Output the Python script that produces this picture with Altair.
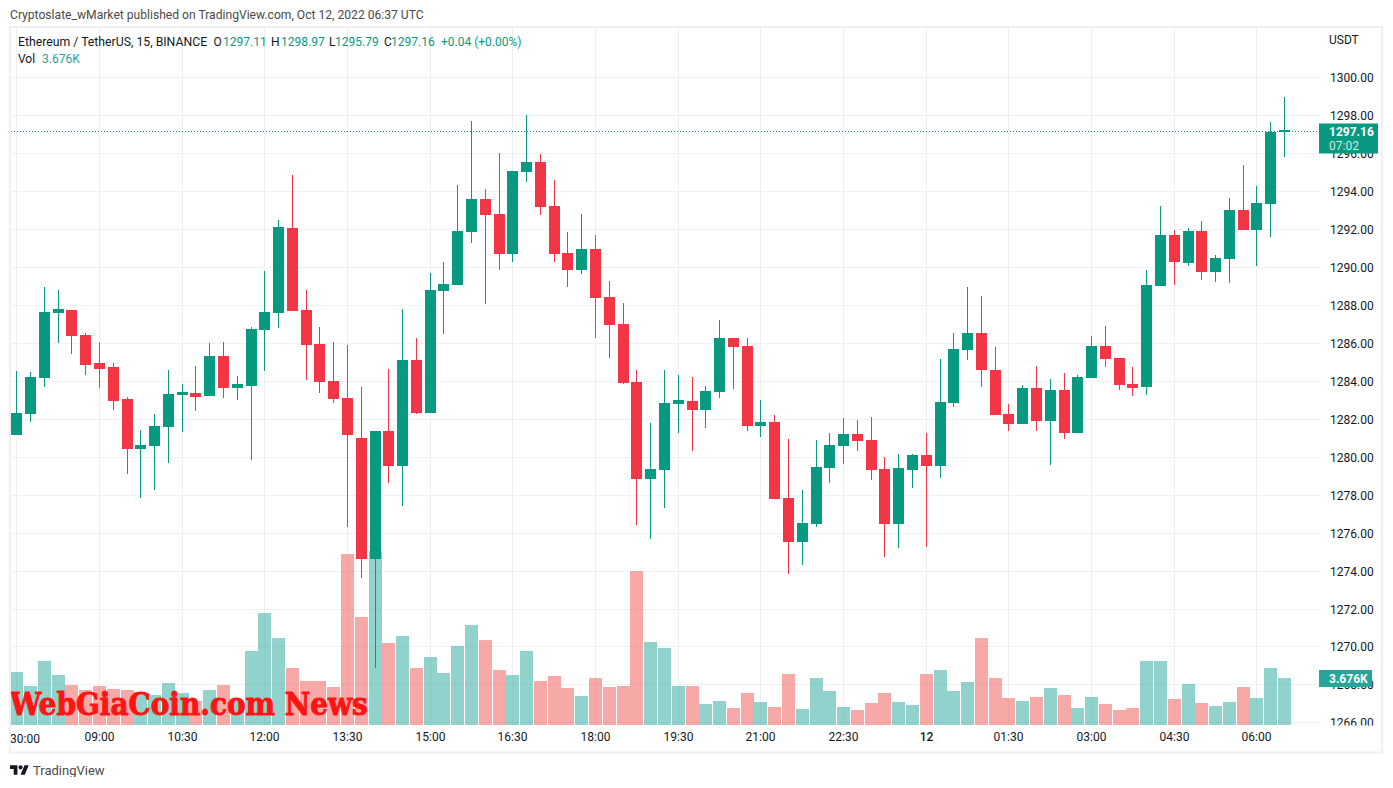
import altair as alt
import pandas as pd

opens = [1281.15,1282.26,1284.15,1287.58,1287.74,1286.42,1284.95,1284.73,1283.05,1280.41,
         1280.57,1281.57,1283.26,1283.36,1283.21,1285.31,1283.63,1283.73,1286.69,1287.58,
         1292.06,1287.74,1285.95,1284.00,1283.10,1280.99,1274.61,1281.36,1279.52,1285.10,
         1282.31,1288.74,1289.06,1291.85,1293.59,1292.80,1290.69,1295.01,1295.54,1293.22,
         1290.74,1289.85,1290.96,1288.42,1287.00,1283.94,1278.83,1279.31,1282.78,1282.94,
         1282.47,1283.42,1286.26,1285.84,1281.62,1281.83,1277.83,1275.51,1276.46,1279.41,
         1280.57,1281.20,1280.89,1279.36,1276.46,1279.30,1280.09,1279.51,1282.84,1285.63,
         1286.53,1284.58,1282.26,1281.73,1283.62,1281.88,1283.52,1281.25,1284.15,1285.83,
         1285.20,1283.83,1283.67,1289.00,1291.69,1290.21,1291.90,1289.74,1290.42,1293.00,
         1291.95,1293.32,1297.11]
closes = [1282.31,1284.21,1287.63,1287.74,1286.37,1284.84,1284.63,1282.94,1280.41,1280.62,
          1281.62,1283.31,1283.36,1283.21,1285.31,1283.63,1283.79,1286.74,1287.63,1292.12,
          1287.69,1285.89,1283.94,1283.05,1281.15,1274.61,1281.36,1279.52,1285.10,1282.31,
          1288.79,1289.11,1291.90,1293.59,1292.75,1290.69,1295.07,1295.54,1293.17,1290.69,
          1289.85,1290.96,1288.37,1286.95,1283.89,1278.83,1279.36,1282.84,1282.94,1282.47,
          1283.47,1286.26,1285.79,1281.62,1281.83,1277.78,1275.51,1276.51,1279.46,1280.62,
          1281.20,1280.83,1279.30,1276.46,1279.41,1280.09,1279.51,1282.89,1285.68,1286.53,
          1284.58,1282.20,1281.73,1283.63,1281.88,1283.52,1281.25,1284.20,1285.83,1285.15,
          1283.78,1283.67,1289.05,1291.69,1290.26,1291.90,1289.74,1290.47,1293.00,1291.95,
          1293.37,1297.12,1297.16]
highs = [1284.52,1284.47,1288.95,1288.79,1287.74,1286.53,1286.05,1284.95,1283.15,1281.41,
         1282.26,1284.58,1283.84,1284.79,1286.00,1286.05,1284.26,1286.84,1289.80,1292.48,
         1294.86,1288.79,1286.84,1286.05,1285.89,1283.68,1281.36,1284.63,1287.79,1286.26,
         1289.69,1290.27,1294.33,1297.70,1294.12,1296.02,1295.07,1298.02,1295.96,1294.59,
         1291.85,1292.80,1291.69,1289.27,1288.11,1284.58,1281.78,1284.58,1284.31,1284.21,
         1283.73,1287.21,1286.26,1286.26,1282.99,1282.20,1280.94,1278.25,1280.89,1281.25,
         1282.05,1281.94,1282.10,1279.99,1280.15,1280.15,1281.25,1285.16,1286.53,1288.95,
         1288.48,1285.79,1282.78,1283.78,1284.78,1284.10,1284.41,1284.31,1286.36,1286.89,
         1285.20,1284.73,1289.84,1293.21,1291.95,1292.06,1292.42,1290.63,1293.64,1295.38,
         1294.27,1297.64,1298.97]
lows = [1281.15,1281.84,1283.68,1286.00,1285.42,1284.31,1283.63,1282.47,1279.09,1277.83,
        1278.25,1279.67,1281.31,1282.42,1283.21,1283.10,1283.00,1279.83,1284.52,1286.79,
        1287.69,1284.05,1283.36,1282.84,1276.30,1273.61,1268.87,1278.62,1277.41,1282.26,
        1282.31,1286.47,1289.06,1291.27,1288.06,1289.85,1290.27,1294.49,1292.75,1290.27,
        1288.95,1289.64,1286.26,1285.21,1283.84,1276.41,1275.67,1277.30,1281.26,1280.31,
        1281.52,1283.10,1283.57,1281.36,1281.04,1277.78,1273.82,1274.30,1276.30,1278.62,
        1279.62,1280.31,1278.78,1274.72,1275.19,1278.36,1275.24,1278.88,1282.63,1285.10,
        1283.68,1282.20,1281.36,1281.73,1281.35,1279.57,1280.93,1281.25,1284.15,1284.73,
        1283.52,1283.20,1283.25,1289.00,1289.05,1290.05,1289.31,1289.21,1289.16,1291.95,
        1290.05,1291.58,1295.79]
volumes = [4.15,3.05,5.01,3.91,3.13,2.74,3.05,2.82,2.74,2.58,2.35,3.28,2.50,1.88,2.74,3.13,1.96,
           5.79,8.76,6.80,4.46,3.44,3.44,2.97,13.37,8.45,13.61,6.41,6.96,4.46,5.32,4.07,6.18,
           7.82,6.65,4.30,3.91,5.79,3.44,3.83,2.89,2.27,3.68,2.97,3.05,12.04,6.49,6.02,3.05,
           3.05,1.64,1.88,1.33,2.50,1.80,1.41,3.99,1.25,3.68,2.66,1.41,1.17,1.72,2.50,1.80,
           1.56,3.99,4.30,2.66,3.36,6.80,3.68,2.11,1.88,2.19,2.89,2.35,1.33,2.19,1.64,1.17,
           1.33,5.01,5.01,2.03,3.21,1.72,1.49,1.80,2.97,2.11,4.46,3.676]
time_tick_labels = ["", "09:00", "10:30", "12:00", "13:30", "15:00", "16:30", "18:00", "19:30",
                    "21:00", "22:30", "12", "01:30", "03:00", "04:30", "06:00"]
price_ticks = list(range(1266, 1302, 2))

FONT = "Roboto"
GREEN, RED = "#089981", "#F23645"
TEXT = "#131722"
GRID = "#f0f1f5"
GRID_V = "#eceef2"

n = len(opens)
df = pd.DataFrame({"i": range(1, n + 1), "open": opens, "close": closes, "high": highs,
                   "low": lows, "vol": volumes})
df["dir"] = ["up" if c >= o else "down" for o, c in zip(opens, closes)]
one = pd.DataFrame({"a": [0]})
time_ticks = [1 + 6 * k for k in range(len(time_tick_labels))]

W, H = 1309, 697
x_scale = alt.Scale(domain=[0.5428, 95.536], range=[0, W], round=True, padding=0)
y_scale = alt.Scale(domain=[1265.86, 1302.602], range=[H, 0], round=True, padding=0)
v_scale = alt.Scale(domain=[0, 54.5], range=[H, 0], round=True, padding=0)

label_js = "[" + ",".join(f"'{s}'" for s in time_tick_labels) + "][(datum.value-1)/6]"
x_axis = alt.Axis(values=time_ticks, labelExpr=label_js, title=None, grid=True, gridColor=GRID_V,
                  gridWidth=1, domain=False, ticks=False, labelPadding=7, labelFont=FONT,
                  labelFontSize=12, labelColor=TEXT, labelOverlap=False, labelFlush=False,
                  labelBound=False, translate=0,
                  labelFontWeight={"expr": "datum.value == 67 ? 500 : 'normal'"})
y_axis = alt.Axis(values=price_ticks, format=".2f", title=None, orient="right", grid=True,
                  gridColor=GRID, gridWidth=1, domain=False, ticks=False, labelPadding=10,
                  labelFont=FONT, labelFontSize=12, labelColor=TEXT, labelOverlap=False,
                  labelFlush=False, labelBound=False, translate=0.5, labelAlign="left")

X = alt.X("i:Q", scale=x_scale, axis=x_axis)
col_candle = alt.Color("dir:N", scale=alt.Scale(domain=["up", "down"], range=[GREEN, RED]), legend=None)
col_vol = alt.Color("dir:N", scale=alt.Scale(domain=["up", "down"], range=["#26a69a", "#ef5350"]), legend=None)

vol = alt.Chart(df).mark_bar(size=13, opacity=0.5).encode(
    x=X, y=alt.Y("vol:Q", scale=v_scale, axis=None), color=col_vol)
wick = alt.Chart(df).mark_bar(size=1).encode(
    x=X, y=alt.Y("low:Q", scale=y_scale, axis=y_axis), y2="high:Q", color=col_candle)
body = alt.Chart(df).mark_bar(size=11).encode(
    x=X, y=alt.Y("open:Q", scale=y_scale, axis=None), y2="close:Q", color=col_candle)
doji = alt.Chart(df).transform_filter("abs(datum.open - datum.close) < 0.2").mark_tick(
    orient="horizontal", size=11, thickness=2, opacity=1).encode(
    x=X, y=alt.Y("close:Q", scale=y_scale, axis=None), color=col_candle)
last_line = alt.Chart(one).mark_rule(color=GREEN, strokeDash=[1, 2], strokeWidth=1, yOffset=0.5).encode(
    y=alt.Y("p:Q", scale=y_scale, axis=None), x=alt.value(0.5), x2=alt.value(W)
).transform_calculate(p=str(closes[-1]))


def px(v):
    return v - 10.5


def py(v):
    return v - 28


def txt(s, x, y, size=12, color=TEXT, font=FONT, weight="normal", **kw):
    return alt.Chart(one).mark_text(align="left", baseline="middle", font=font, fontSize=size,
                                    color=color, fontWeight=weight, **kw).encode(
        x=alt.value(px(x)), y=alt.value(py(y)), text=alt.value(s))


def box(x1, x2, y1, y2, **kw):
    return alt.Chart(one).mark_rect(**kw).encode(
        x=alt.value(px(x1)), x2=alt.value(px(x2)), y=alt.value(py(y1)), y2=alt.value(py(y2)))


LOGO = ("M-0.222 0.5H-0.611V-0.111H-1V-0.5H-0.222ZM0.556 0.5H0.111L0.528 -0.5H0.972Z"
        "M-0.111 -0.278A0.222 0.222 0 1 0 0.333 -0.278A0.222 0.222 0 1 0 -0.111 -0.278Z")
logo = alt.Chart(one).mark_point(shape=LOGO, filled=True, size=361, opacity=1, color=TEXT).encode(
    x=alt.value(px(19.5)), y=alt.value(py(770)))

layers = [
    vol, wick, body, doji, last_line,
    box(1320, 1381, 725.5, 735, color="white"),
    box(1319, 1378, 123.5, 153.5, color=GREEN),
    box(1319, 1372, 670, 687, color="#26a69a"),
    txt("1297.16", 1329, 131.5, weight="bold", color="white"),
    txt("07:02", 1329, 145.5, color="#cfeae5"),
    txt("3.676K", 1329, 679, weight="bold", color="white"),
    txt("USDT", 1329, 40),
    txt("30:00", 10, 738.5),
    txt("Cryptoslate_wMarket published on TradingView.com, Oct 12, 2022 06:37 UTC", 10, 15, size=12.12, color="#4a4a4a"),
    txt("Ethereum / TetherUS, 15, BINANCE", 18, 42, size=12.25),
    txt("O", 213.5, 42), txt("1297.11", 223, 42, color=GREEN),
    txt("H", 271, 42), txt("1298.97", 281, 42, color=GREEN),
    txt("L", 329, 42), txt("1295.79", 335, 42, color=GREEN),
    txt("C", 384, 42), txt("1297.16", 391, 42, color=GREEN),
    txt("+0.04 (+0.00%)", 441, 42, color=GREEN),
    txt("Vol", 18, 59), txt("3.676K", 42, 59, color="#26a69a"),
    txt("WebGiaCoin.com News", 10, 705.5, size=31, color="#ff1414", font="DejaVu Serif Condensed",
        weight="bold", stroke="#ff1414", strokeWidth=0.9),
    logo,
    txt("TradingView", 33, 770.5, size=13, color="#4a4a4a"),
    box(10, 1382, 27, 752.5, fillOpacity=0, stroke="#f0f0f4", strokeWidth=2),
]

chart = alt.layer(*layers).resolve_scale(y="independent", color="independent").properties(
    width=W, height=H,
    autosize=alt.AutoSizeParams(type="none"),
    padding={"left": 2.5, "top": 20, "right": 65.5, "bottom": 52},
    background="white",
).configure_view(stroke=None)

chart.save("out.html", embed_options={"renderer": "svg", "actions": False})
